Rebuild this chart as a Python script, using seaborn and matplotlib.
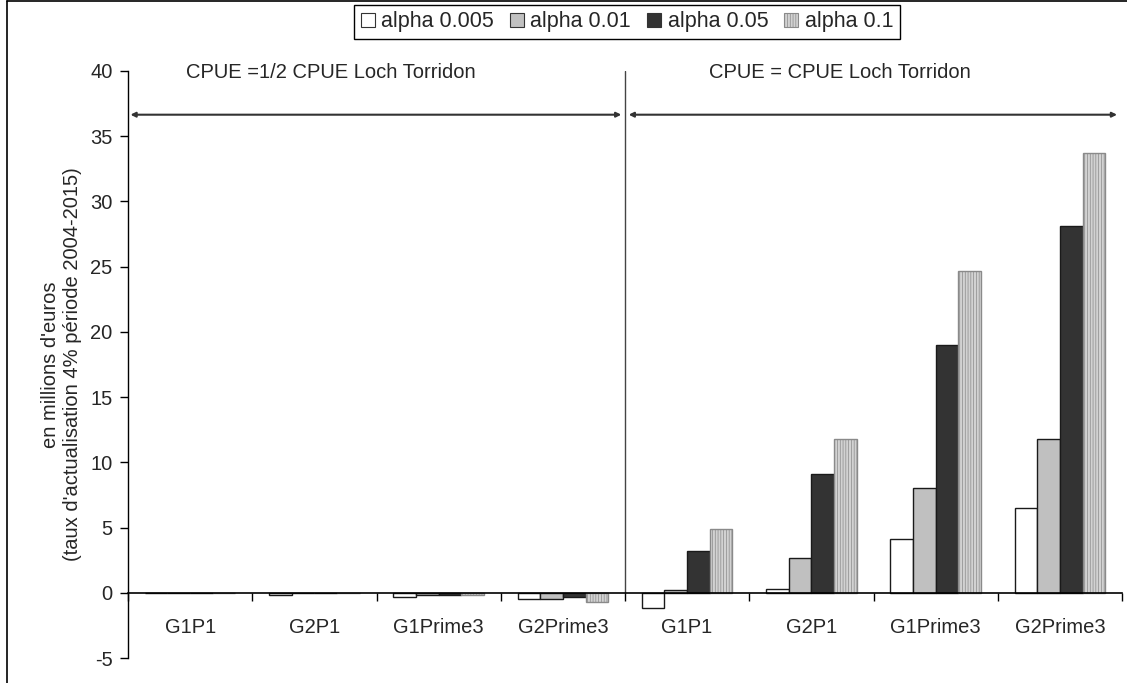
import numpy as np
import pandas as pd
import matplotlib
matplotlib.use("Agg")
import matplotlib.pyplot as plt
import seaborn as sns
from matplotlib.lines import Line2D

sns.set_style("white")
plt.rcParams['font.family'] = ['Liberation Sans', 'DejaVu Sans']
plt.rcParams['hatch.linewidth'] = 0.5
plt.rcParams['axes.unicode_minus'] = False

# ---- data ----
groups = ["G1P1", "G2P1", "G1Prime3", "G2Prime3",
          "G1P1", "G2P1", "G1Prime3", "G2Prime3"]
series = ["alpha 0.005", "alpha 0.01", "alpha 0.05", "alpha 0.1"]
alpha_0005 = [0.0, -0.2, -0.3, -0.45, -1.2, 0.3, 4.1, 6.5]
alpha_001 = [0.0, 0.0, -0.15, -0.45, 0.2, 2.7, 8.0, 11.8]
alpha_005 = [0.0, 0.0, -0.15, -0.35, 3.2, 9.1, 19.0, 28.1]
alpha_01 = [0.0, 0.0, -0.15, -0.7, 4.9, 11.8, 24.7, 33.7]
section_labels = ["CPUE =1/2 CPUE Loch Torridon", "CPUE = CPUE Loch Torridon"]
ylabel = "en millions d'euros\n(taux d'actualisation 4% période 2004-2015)"

keys = [f"{i}_{g}" for i, g in enumerate(groups)]
values = [alpha_0005, alpha_001, alpha_005, alpha_01]
df = pd.DataFrame({
    "key": np.repeat([keys], 4, axis=0).ravel(),
    "serie": np.repeat(series, len(keys)),
    "val": np.concatenate(values),
})

colors = ["#ffffff", "#c0c0c0", "#333333", "#d2d2d2"]
FS = 14.5

fig = plt.figure(figsize=(11.27, 6.83), dpi=100)
ax = fig.add_axes([128 / 1127, 1 - 658 / 683, (1122 - 128) / 1127, (658 - 71) / 683])

sns.barplot(data=df, x="key", y="val", hue="serie", order=keys, hue_order=series,
            palette=colors, width=0.73, ax=ax, saturation=1, legend=False,
            edgecolor="#1a1a1a", linewidth=1.0)

for i, cont in enumerate(ax.containers):
    for p in cont.patches:
        if i == 3:
            p.set_hatch("||||||")
            p.set_edgecolor("#8a8a8a")

ax.set_xlim(-0.5, len(keys) - 0.5)
ax.set_ylim(-5, 40)
ax.set_yticks(np.arange(-5, 41, 5))
ax.tick_params(axis="y", which="both", left=True, length=6, width=1, labelsize=FS, pad=5, color="black")
ax.set_ylabel(ylabel, fontsize=FS, labelpad=6)
ax.set_xlabel("")

for s in ["top", "right"]:
    ax.spines[s].set_visible(False)
ax.spines["left"].set_color("black")
ax.spines["left"].set_linewidth(1)
ax.spines["bottom"].set_position(("data", 0))
ax.spines["bottom"].set_color("black")
ax.spines["bottom"].set_linewidth(1.2)

ax.set_xticks(np.arange(len(keys)))
ax.set_xticklabels([])
ax.set_xticks(np.arange(-0.5, len(keys), 1.0), minor=True)
ax.tick_params(axis="x", which="major", length=0, bottom=False)
ax.tick_params(axis="x", which="minor", bottom=True, direction="out", length=6, width=1, color="black")

for i, g in enumerate(groups):
    ax.text(i, -2.7, g, ha="center", va="center", fontsize=FS)

# section separator
ax.plot([3.5, 3.5], [0, 40], color="#444444", lw=1)
# arrows
arrow_y = 36.65
ax.annotate("", xy=(-0.48, arrow_y), xytext=(3.47, arrow_y),
            arrowprops=dict(arrowstyle="<|-|>", color="#333333", lw=1.5, mutation_scale=7,
                            shrinkA=0, shrinkB=0))
ax.annotate("", xy=(3.53, arrow_y), xytext=(7.46, arrow_y),
            arrowprops=dict(arrowstyle="<|-|>", color="#333333", lw=1.5, mutation_scale=7,
                            shrinkA=0, shrinkB=0))
ax.text(1.13, 39.9, section_labels[0], ha="center", va="center", fontsize=FS)
ax.text(5.23, 39.9, section_labels[1], ha="center", va="center", fontsize=FS)

# legend
handles = [plt.Rectangle((0, 0), 1, 1, facecolor=c, edgecolor="#333333", lw=0.8) for c in colors]
handles[3].set_hatch("||||||")
handles[3].set_edgecolor("#8a8a8a")
leg = fig.legend(handles, series, loc="upper center", bbox_to_anchor=(627 / 1127, 1 - 5 / 683),
                 ncol=4, fontsize=15.5, frameon=True, fancybox=False, framealpha=1,
                 handlelength=0.65, handleheight=0.65, handletextpad=0.3, columnspacing=0.75,
                 borderpad=0.3, borderaxespad=0)
leg.get_frame().set_edgecolor("black")
leg.get_frame().set_linewidth(1)

# outer chart frame (left and top edges)
fig.add_artist(Line2D([7 / 1127, 7 / 1127], [0, 1 - 1 / 683], transform=fig.transFigure, color="black", lw=1.2))
fig.add_artist(Line2D([7 / 1127, 1], [1 - 1 / 683, 1 - 1 / 683], transform=fig.transFigure, color="black", lw=1.2))

fig.savefig("out.png", dpi=100)
